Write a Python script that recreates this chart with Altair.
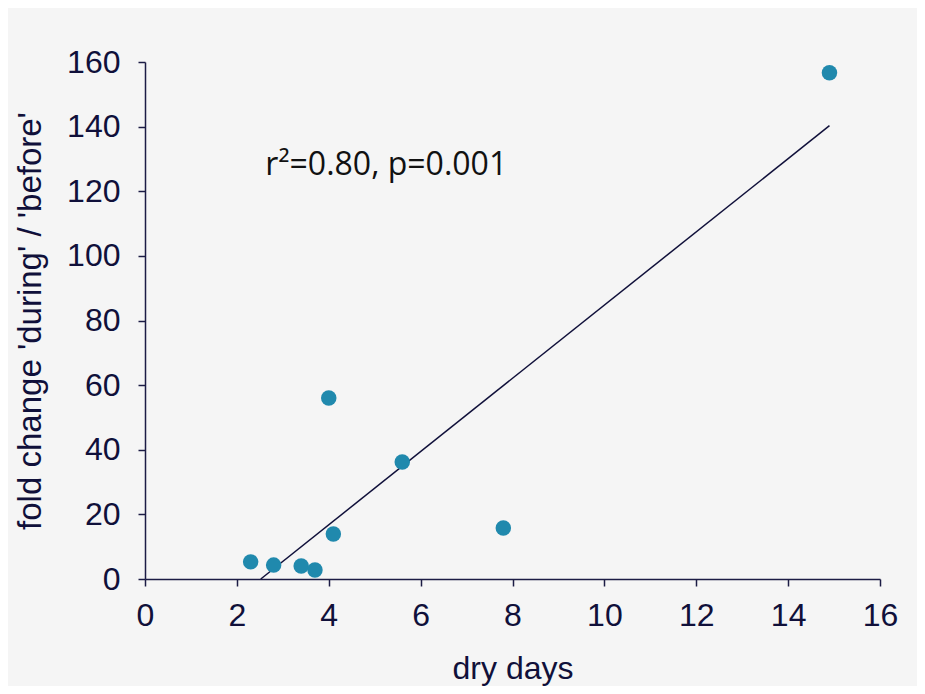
import altair as alt
import pandas as pd

dry_days = [2.3, 2.8, 3.4, 3.7, 4.0, 4.1, 5.6, 7.8, 14.9]
fold_change = [5.3, 4.3, 4.0, 2.8, 56.0, 13.9, 36.2, 15.8, 156.7]
fit_x = [2.52, 14.9]
fit_y = [0.0, 140.3]
note = ["r\u00b2=0.80, p=0.001"]
note_x = [2.62]
note_y = [128.0]

pts = pd.DataFrame({"x": dry_days, "y": fold_change})
fit = pd.DataFrame({"x": fit_x, "y": fit_y})
ann = pd.DataFrame({"x": note_x, "y": note_y, "t": note})

axis_col = "#1c1c45"
xs = alt.Scale(domain=[0, 16], nice=False, zero=False)
ys = alt.Scale(domain=[0, 160], nice=False, zero=False)

xaxis = alt.Axis(values=list(range(0, 17, 2)), title="dry days", labelPadding=14, titlePadding=22)
yaxis = alt.Axis(values=list(range(0, 161, 20)), title="fold change 'during' / 'before'",
                 labelPadding=18, titlePadding=19, titleFontSize=33)

line = alt.Chart(fit).mark_line(color="#10103a", strokeWidth=1.5).encode(
    x=alt.X("x:Q", scale=xs, axis=xaxis),
    y=alt.Y("y:Q", scale=ys, axis=yaxis),
)
dots = alt.Chart(pts).mark_circle(size=240, color="#2089ad", opacity=1).encode(
    x=alt.X("x:Q", scale=xs, axis=xaxis),
    y=alt.Y("y:Q", scale=ys, axis=yaxis),
)
text = alt.Chart(ann).mark_text(align="left", baseline="middle", fontSize=32,
                                font="Open Sans", color="#111111").encode(
    x=alt.X("x:Q", scale=xs, axis=xaxis),
    y=alt.Y("y:Q", scale=ys, axis=yaxis),
    text="t:N",
)

chart = (line + dots + text).properties(
    width=735, height=517,
    background="#f5f5f5",
    padding={"left": 137, "top": 54, "right": 37, "bottom": 107},
    autosize=alt.AutoSizeParams(type="none"),
).configure_view(stroke=None).configure_axis(
    grid=False, labelFontSize=32, titleFontSize=32, tickSize=7, labelFlush=False,
    domainColor=axis_col, tickColor=axis_col, labelColor="#10103a", titleColor="#10103a",
    titleFontWeight="normal", labelFont="Liberation Sans", titleFont="Liberation Sans",
    domainWidth=1.5, tickWidth=1.5,
)

chart.save("out.html", embed_options={"renderer": "svg", "actions": False})
